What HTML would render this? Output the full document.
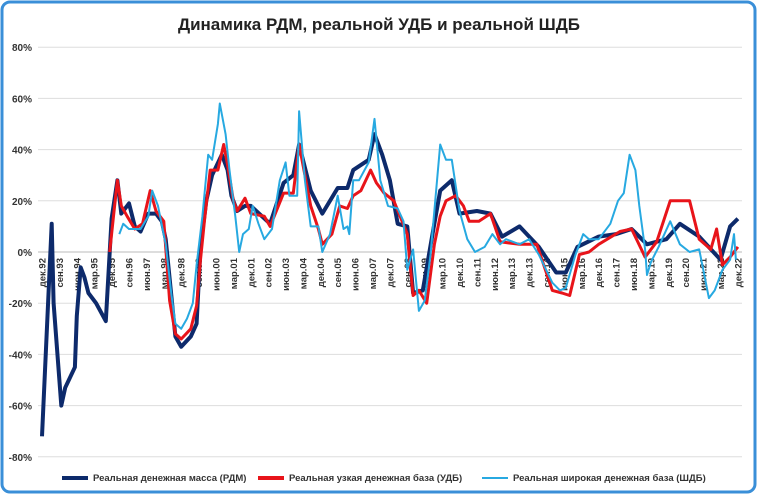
<!DOCTYPE html>
<html><head><meta charset="utf-8"><style>
body{margin:0;background:#fff;}
svg{display:block;font-family:"Liberation Sans",sans-serif;}
</style></head><body>
<svg id="c" width="758" height="495">
<rect x="2" y="2" width="753" height="490" rx="8" fill="#fff" stroke="#3a8fd8" stroke-width="3"/>
<text x="379" y="30" text-anchor="middle" font-size="17" font-weight="bold" fill="#222">Динамика РДМ, реальной УДБ и реальной ШДБ</text>
<g id="grid"></g><g id="xl"></g><g id="series"></g>
<g>
<line x1="62" y1="478" x2="88" y2="478" stroke="#0d2a6b" stroke-width="4"/>
<text x="93" y="481" font-size="9.5" font-weight="bold" fill="#333">Реальная денежная масса (РДМ)</text>
<line x1="258" y1="478" x2="284" y2="478" stroke="#e8141a" stroke-width="4"/>
<text x="289" y="481" font-size="9.5" font-weight="bold" fill="#333">Реальная узкая денежная база (УДБ)</text>
<line x1="482" y1="478" x2="508" y2="478" stroke="#27a9e1" stroke-width="2"/>
<text x="513" y="481" font-size="9.5" font-weight="bold" fill="#333">Реальная широкая денежная база (ШДБ)</text>
</g>
</svg>
<script>
const yTicks=[80,60,40,20,0,-20,-40,-60,-80];
const xLabels=["дек.92","сен.93","июн.94","мар.95","дек.95","сен.96","июн.97","мар.98","дек.98","сен.99","июн.00","мар.01","дек.01","сен.02","июн.03","мар.04","дек.04","сен.05","июн.06","мар.07","дек.07","сен.08","июн.09","мар.10","дек.10","сен.11","июн.12","мар.13","дек.13","сен.14","июн.15","мар.16","дек.16","сен.17","июн.18","мар.19","дек.19","сен.20","июн.21","мар.22","дек.22"];
// months since Dec 1992
const rdmM=[0,5,6,10,12,17,18,20,22,24,28,33,36,39,41,45,48,51,55,59,62,64,69,72,77,80,82,85,88,93,96,98,101,105,108,118,125,130,133,139,145,153,158,161,169,172,176,180,184,189,192,197,202,206,212,216,225,232,238,247,257,266,271,277,288,297,305,313,323,330,340,351,356,360];
const rdmV=[-72,11,-20,-60,-53,-45,-25,-6,-10,-16,-20,-27,13,28,15,19,10,8,15,15,12,5,-33,-37,-33,-28,2,20,30,38,32,22,16,18,18,11,27,30,42,24,15,25,25,32,36,46,38,28,11,10,-16,-15,7,24,28,15,16,15,6,10,2,-8,-8,2,6,7,9,3,5,11,6,-3,10,13];
const udbM=[35,37,39,41,44,48,52,56,59,63,66,69,72,77,80,82,84,87,91,94,96,99,101,105,108,115,118,125,130,133,139,143,145,150,154,158,161,165,170,173,177,182,189,192,195,199,203,206,209,214,218,221,226,232,237,247,256,264,269,273,278,283,288,299,305,312,318,325,335,340,346,349,352,356,360];
const udbV=[0,14,28,18,14,9,11,24,16,12,-19,-32,-34,-30,-21,-3,12,32,32,42,34,20,16,21,15,14,10,23,23,42,18,9,3,7,18,17,22,24,32,27,23,20,7,-17,-15,-20,3,14,20,22,18,12,12,15,4,3,3,-15,-16,-17,-1,0,3,8,9,-2,4,20,20,5,1,9,-5,-2,2];
const shdbM=[40,42,45,51,55,57,60,64,67,69,72,75,78,80,83,86,88,91,92,95,97,100,102,104,107,109,112,115,119,123,126,128,132,133,136,139,143,145,149,153,156,158,159,161,164,169,172,175,179,184,187,189,192,195,198,201,206,209,212,216,220,224,229,233,237,240,247,252,257,264,268,271,276,280,283,288,294,298,301,304,307,309,312,313,315,319,325,330,335,340,345,348,352,356,358,359];
const shdbV=[7,11,9,9,14,24,18,3,-17,-28,-30,-26,-20,-5,14,38,36,50,58,46,32,14,0,7,9,18,11,5,9,28,35,22,22,55,28,10,10,0,7,22,9,10,7,28,28,35,52,28,18,17,12,-7,1,-23,-19,-1,42,36,36,16,5,0,2,7,3,5,3,5,-1,-12,-15,-14,-1,7,5,5,11,20,23,38,32,18,1,-9,-4,2,12,3,0,1,-18,-15,-7,-3,7,-3];
const NS="http://www.w3.org/2000/svg";
const X0=42,PXM=1.933,Y0=252,PXV=2.56;
const xs=m=>X0+m*PXM, ys=v=>Y0-v*PXV;
const g=document.getElementById('grid');
yTicks.forEach(t=>{
 const l=document.createElementNS(NS,'line');
 l.setAttribute('x1',38);l.setAttribute('x2',742);l.setAttribute('y1',ys(t));l.setAttribute('y2',ys(t));
 l.setAttribute('stroke',t===0?'#bbb':'#ddd');l.setAttribute('stroke-width',1);
 
 
 g.appendChild(l);
 const tx=document.createElementNS(NS,'text');
 tx.setAttribute('x',32);tx.setAttribute('y',ys(t)+4);tx.setAttribute('text-anchor','end');
 tx.setAttribute('font-size',10);tx.setAttribute('font-weight','bold');tx.setAttribute('fill','#333');
 tx.textContent=t+'%';
 
 
 g.appendChild(tx);
});
const xl=document.getElementById('xl');
xLabels.forEach((s,i)=>{
 const x=xs(i*9);
 const tx=document.createElementNS(NS,'text');
 tx.setAttribute('transform',`translate(${x+3.5},258) rotate(-90)`);
 tx.setAttribute('text-anchor','end');tx.setAttribute('font-size',9.5);tx.setAttribute('font-weight','bold');tx.setAttribute('fill','#333');
 tx.textContent=s;
 
 
 xl.appendChild(tx);
});
const sg=document.getElementById('series');
function draw(M,V,col,w,name){
 const p=document.createElementNS(NS,'path');
 p.setAttribute('d',M.map((m,i)=>(i?'L':'M')+xs(m).toFixed(1)+','+ys(V[i]).toFixed(1)).join(''));
 p.setAttribute('fill','none');p.setAttribute('stroke',col);p.setAttribute('stroke-width',w);p.setAttribute('stroke-linejoin','round');
 
 
 sg.appendChild(p);
}
draw(rdmM,rdmV,'#0d2a6b',4,'series-rdm');
draw(udbM,udbV,'#e8141a',3,'series-udb');
draw(shdbM,shdbV,'#27a9e1',2,'series-shdb');
</script>
</body></html>
